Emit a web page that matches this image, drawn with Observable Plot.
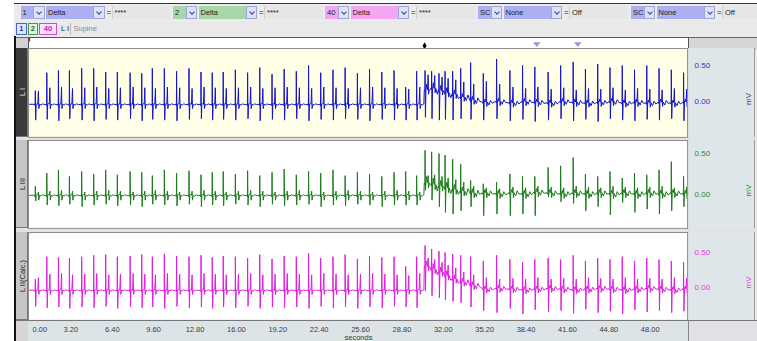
<!DOCTYPE html>
<html><head><meta charset="utf-8">
<script src="https://cdn.jsdelivr.net/npm/d3@7"></script>
<script src="https://cdn.jsdelivr.net/npm/@observablehq/plot@0.6"></script>
<style>
body{margin:0;background:#fff;width:757px;height:341px;overflow:hidden;position:relative;font-family:"Liberation Sans",Arial,sans-serif;}
.a{position:absolute;box-sizing:border-box;}
.t{font-size:7.5px;line-height:1;white-space:nowrap;display:flex;align-items:center;padding-left:2px;color:#222;}
</style></head><body>
<script>
// ---------------- data ----------------
const beatTimes = [0.45,1.34,2.24,3.09,4.04,4.97,5.90,6.80,7.79,8.69,9.51,10.44,11.39,12.35,13.28,14.15,15.00,15.94,16.89,17.83,18.78,19.72,20.66,21.61,22.55,23.50,24.44,25.39,26.33,27.28,28.23,29.13,29.98,30.63,31.14,31.71,32.18,32.77,33.39,34.16,35.14,36.17,37.20,38.18,39.13,40.16,41.13,42.10,43.05,44.00,44.95,45.90,46.85,47.80,48.75,49.70,50.65];
const noiseMv = [0.01,0.01,0.01,0.01,0.01,0.01,0.01,0.01,0.01,0.01,0.01,0.01,0.01,0.01,0.01,0.01,0.01,0.01,0.01,0.01,0.01,0.01,0.01,0.01,0.01,0.01,0.01,0.01,0.01,0.01,0.01,0.01,0.01,0.08,0.08,0.07,0.07,0.06,0.05,0.05,0.04,0.04,0.04,0.04,0.04,0.04,0.04,0.04,0.04,0.04,0.04,0.04,0.04,0.04,0.04,0.04,0.04];

// Lead I (blue)
const baseI = [-0.04,-0.04,-0.04,-0.04,-0.04,-0.04,-0.04,-0.04,-0.04,-0.04,-0.04,-0.04,-0.04,-0.04,-0.04,-0.04,-0.04,-0.04,-0.04,-0.04,-0.04,-0.04,-0.04,-0.04,-0.04,-0.04,-0.04,-0.04,-0.04,-0.04,-0.04,-0.04,-0.04,0.16,0.18,0.15,0.12,0.10,0.06,0.02,-0.01,0.00,-0.02,0.00,-0.01,-0.02,0.00,-0.01,-0.02,-0.01,0.00,-0.02,-0.01,-0.02,-0.01,-0.02,-0.01];
const peakI = [0.15,0.40,0.43,0.43,0.46,0.46,0.41,0.41,0.40,0.39,0.46,0.46,0.42,0.46,0.41,0.40,0.41,0.44,0.40,0.47,0.38,0.45,0.42,0.50,0.40,0.44,0.47,0.39,0.45,0.41,0.43,0.20,0.42,0.43,0.42,0.39,0.42,0.42,0.46,0.54,0.39,0.59,0.43,0.50,0.48,0.41,0.50,0.55,0.45,0.52,0.47,0.50,0.44,0.50,0.46,0.44,0.40];
const troughI = [-0.26,-0.25,-0.27,-0.24,-0.26,-0.27,-0.25,-0.26,-0.24,-0.27,-0.25,-0.26,-0.27,-0.25,-0.24,-0.26,-0.25,-0.26,-0.24,-0.27,-0.25,-0.26,-0.24,-0.27,-0.25,-0.26,-0.24,-0.25,-0.27,-0.25,-0.26,-0.26,-0.26,-0.22,-0.24,-0.26,-0.25,-0.26,-0.24,-0.25,-0.26,-0.24,-0.27,-0.25,-0.28,-0.26,-0.24,-0.27,-0.25,-0.28,-0.24,-0.26,-0.27,-0.25,-0.26,-0.24,-0.27];
const secI = [0.14,0.19,0.20,0.18,0.19,0.20,0.18,0.19,0.20,0.19,0.18,0.20,0.19,0.18,0.20,0.19,0.18,0.19,0.20,0.18,0.19,0.20,0.19,0.18,0.20,0.19,0.18,0.19,0.20,0.19,0.18,0.17,0.20,0.37,0.36,0.34,0.32,0.30,0.27,0.24,0.28,0.24,0.20,0.18,0.20,0.17,0.19,0.16,0.18,0.17,0.19,0.16,0.18,0.17,0.16,0.18,0.17];

// Lead III (green)
const baseIII = [-0.01,-0.01,-0.01,-0.01,-0.01,-0.01,-0.01,-0.01,-0.01,-0.01,-0.01,-0.01,-0.01,-0.01,-0.01,-0.01,-0.01,-0.01,-0.01,-0.01,-0.01,-0.01,-0.01,-0.01,-0.01,-0.01,-0.01,-0.01,-0.01,-0.01,-0.01,-0.01,-0.01,0.14,0.12,0.10,0.08,0.06,0.04,0.02,0.02,0.01,0.02,0.01,0.03,0.02,0.01,0.02,0.01,0.02,0.01,0.02,0.01,0.02,0.01,0.02,0.01];
const peakIII = [0.10,0.26,0.30,0.22,0.28,0.25,0.30,0.24,0.28,0.27,0.23,0.30,0.26,0.29,0.24,0.27,0.28,0.25,0.29,0.23,0.27,0.31,0.24,0.28,0.26,0.30,0.23,0.27,0.25,0.22,0.27,0.28,0.23,0.54,0.52,0.50,0.48,0.43,0.37,0.17,0.13,0.15,0.25,0.22,0.22,0.33,0.35,0.45,0.25,0.22,0.28,0.20,0.26,0.24,0.30,0.40,0.22];
const troughIII = [-0.08,-0.13,-0.14,-0.12,-0.15,-0.13,-0.12,-0.14,-0.13,-0.15,-0.12,-0.13,-0.14,-0.12,-0.15,-0.13,-0.14,-0.12,-0.13,-0.15,-0.12,-0.14,-0.13,-0.12,-0.15,-0.13,-0.14,-0.12,-0.13,-0.15,-0.13,-0.13,-0.13,0.05,-0.07,-0.15,-0.22,-0.24,-0.20,-0.15,-0.26,-0.24,-0.26,-0.24,-0.26,-0.03,-0.09,-0.11,-0.20,-0.15,-0.25,-0.10,-0.22,-0.18,-0.24,-0.20,-0.15];
const secIII = [0.03,0.04,0.05,0.04,0.03,0.04,0.05,0.04,0.03,0.04,0.05,0.04,0.03,0.04,0.05,0.04,0.03,0.04,0.05,0.04,0.03,0.04,0.05,0.04,0.03,0.04,0.05,0.04,0.03,0.04,0.05,0.04,0.03,0.23,0.24,0.22,0.20,0.18,0.15,0.10,0.08,0.07,0.09,0.08,0.10,0.09,0.08,0.10,0.09,0.08,0.10,0.09,0.08,0.09,0.10,0.08,0.09];

// Lead II calc (magenta)
const baseII = [-0.04,-0.04,-0.04,-0.04,-0.04,-0.04,-0.04,-0.04,-0.04,-0.04,-0.04,-0.04,-0.04,-0.04,-0.04,-0.04,-0.04,-0.04,-0.04,-0.04,-0.04,-0.04,-0.04,-0.04,-0.04,-0.04,-0.04,-0.04,-0.04,-0.04,-0.04,-0.04,-0.04,0.30,0.26,0.22,0.17,0.12,0.08,0.03,-0.02,-0.01,-0.02,-0.03,-0.02,-0.01,-0.02,-0.03,-0.02,-0.01,-0.02,-0.03,-0.02,-0.01,-0.02,-0.03,-0.02];
const peakII = [0.12,0.44,0.43,0.42,0.44,0.46,0.47,0.44,0.45,0.47,0.44,0.48,0.45,0.44,0.46,0.43,0.45,0.44,0.42,0.47,0.41,0.45,0.44,0.49,0.42,0.44,0.47,0.41,0.45,0.43,0.44,0.30,0.44,0.60,0.55,0.52,0.50,0.48,0.46,0.44,0.38,0.46,0.40,0.36,0.40,0.42,0.40,0.46,0.38,0.42,0.40,0.44,0.38,0.42,0.40,0.38,0.36];
const troughII = [-0.27,-0.29,-0.28,-0.30,-0.28,-0.29,-0.27,-0.30,-0.28,-0.29,-0.28,-0.30,-0.27,-0.29,-0.28,-0.30,-0.28,-0.29,-0.27,-0.30,-0.28,-0.29,-0.28,-0.30,-0.27,-0.29,-0.28,-0.30,-0.28,-0.29,-0.27,-0.28,-0.29,-0.05,-0.12,-0.15,-0.18,-0.20,-0.22,-0.28,-0.33,-0.36,-0.30,-0.38,-0.32,-0.35,-0.33,-0.37,-0.31,-0.36,-0.34,-0.38,-0.32,-0.35,-0.33,-0.36,-0.34];
const secII = [0.14,0.19,0.20,0.18,0.19,0.20,0.18,0.19,0.20,0.19,0.18,0.20,0.19,0.18,0.20,0.19,0.18,0.19,0.20,0.18,0.19,0.20,0.19,0.18,0.20,0.19,0.18,0.19,0.20,0.19,0.18,0.17,0.20,0.42,0.40,0.36,0.32,0.28,0.22,0.18,0.14,0.12,0.13,0.12,0.14,0.12,0.13,0.12,0.14,0.13,0.12,0.14,0.12,0.13,0.12,0.14,0.13];

const xTicks = [0,3.2,6.4,9.6,12.8,16,19.2,22.4,25.6,28.8,32,35.2,38.4,41.6,44.8,48];
const yTicks = [0, 0.5];
const eventTimes = [30.55];
const markerTimes = [39.23, 42.40];

const toolbar = [
  {num:"1", name:"Delta", val:"****", x:20.5, c:"#aab0f2"},
  {num:"2", name:"Delta", val:"****", x:173, c:"#a9d6a9"},
  {num:"40", name:"Delta", val:"****", x:325, c:"#f4a6f4"},
  {num:"SC", name:"None", val:"Off", x:478, c:"#aab0f2"},
  {num:"SC", name:"None", val:"Off", x:631, c:"#aab0f2"}
];

// ---------------- helpers ----------------
function div(l,t,w,h,css,text,cls){
  const d=document.createElement("div");
  d.className="a"+(cls?" "+cls:"");
  Object.assign(d.style,{left:l+"px",top:t+"px",width:w+"px",height:h+"px"},css||{});
  if(text!=null) d.textContent=text;
  document.body.appendChild(d); return d;
}
function chevron(l,t,h){
  const b=div(l,t,11.5,h,{background:"#dfe2f4",border:"1px solid #9ea6d6"});
  const c=document.createElement("div");
  Object.assign(c.style,{position:"absolute",left:"3px",top:"2.5px",width:"3px",height:"3px",borderRight:"1.5px solid #2c44a8",borderBottom:"1.5px solid #2c44a8",transform:"rotate(45deg)"});
  b.appendChild(c);
}

// window chrome
div(14,3,743,338,{background:"#ebebeb",borderTop:"1px solid #333"});
div(14,36,2,305,{background:"#111"});

// row 1
const R1=6, RH=13;
toolbar.forEach(g=>{
  div(g.x,R1,12.8,RH,{background:g.c},g.num,"t");
  chevron(g.x+12.8,R1,RH);
  div(g.x+25.5,R1,47,RH,{background:g.c},g.name,"t");
  chevron(g.x+72.6,R1,RH);
  div(g.x+85,R1,6,RH,{fontSize:"8px",paddingLeft:"1px"},"=","t");
  div(g.x+91,R1,Math.min(58.5,757-(g.x+91)),RH,{background:"#e6e6e6",borderLeft:"1px solid #cfcfcf"},g.val,"t");
});
// row 2
const R2=23;
div(16,R2-1,741,14,{background:"#e9e9e9"});
div(16,R2,10.5,12,{background:"#dce6f8",border:"1px solid #4a66c4",color:"#2a3aa0",justifyContent:"center",paddingLeft:"0",fontWeight:"bold"},"1","t");
div(27.5,R2,10.5,12,{background:"#e2f1e2",border:"1px solid #4a9a4a",color:"#1f6a1f",justifyContent:"center",paddingLeft:"0",fontWeight:"bold"},"2","t");
div(39,R2,18,12,{background:"#fae4fa",border:"1px solid #d24ad2",color:"#c21cc2",justifyContent:"center",paddingLeft:"0",fontWeight:"bold"},"40","t");
div(59,R2,11,12,{color:"#222"},"L I","t");
div(70,R2,1,12,{background:"#b8b8b8"});
div(71.5,R2,40,12,{color:"#8a8a8a"},"Supine","t");

// timeline strip
const TT=37, TH=11;
div(16,TT,12,TH,{background:"#d2d2d2",borderTop:"1px solid #666"});
div(688,TT,69,TH+2,{background:"#d6d6d8",borderTop:"1px solid #666",borderLeft:"1px solid #888"});

const X0=-0.077, X1=50.96;
const downTri={draw(ctx,size){const s=Math.sqrt(size/Math.PI);ctx.moveTo(-s*1.2,-s*0.75);ctx.lineTo(s*1.2,-s*0.75);ctx.lineTo(0,s*0.75);ctx.closePath();}};
const tl = Plot.plot({
  width:660,height:TH,margin:0,
  x:{domain:[X0,X1],axis:null},
  y:{domain:[0,1],axis:null},
  style:{background:"#ffffff",overflow:"visible"},
  marks:[
    Plot.frame({stroke:"#555",strokeWidth:1}),
    Plot.ruleX([0],{y1:0.6,y2:0.92,stroke:"#b02a2a",strokeWidth:1.5}),
    Plot.dot(eventTimes,{x:d=>d,y:0.25,symbol:"diamond",r:2.1,fill:"#000"}),
    Plot.dot(markerTimes,{x:d=>d,y:0.35,symbol:downTri,r:3.2,fill:"#9898e4"})
  ]
});
const tlw=div(28,TT,660,TH,{}); tlw.appendChild(tl);

// ---------------- panels ----------------
function traceRows(base,peak,trough,sec){
  const rows=[{t:0,v:base[0]}];
  beatTimes.forEach((t,i)=>{
    const b=base[i], n=noiseMv[i];
    const next=i+1<beatTimes.length?beatTimes[i+1]-0.07:X1;
    const pts=[[t-0.06,b],[t-0.015,b-0.02],[t,peak[i]],[t+0.03,trough[i]],[t+0.07,b],[t+0.13,b+n],[t+0.19,b],[t+0.24,sec[i]],[t+0.27,b-0.06],[t+0.33,b],[t+0.44,b-n],[t+0.56,b+n*0.6],[t+0.7,b-n*0.4]];
    pts.forEach(([tt,v],k)=>{ if(k<5 || tt<next) rows.push({t:tt,v}); });
  });
  return rows;
}

const panels=[
  {label:"L I",top:48,h:89,domain:[-0.5,0.736],color:"#1414cc",tick:"#3434b4",bg:"#ffffe8",strip:"#3a3a3a",stripText:"#e6e6e6",data:[baseI,peakI,troughI,secI]},
  {label:"L III",top:140,h:88,domain:[-0.415,0.659],color:"#1c7a1c",tick:"#2a8a2a",bg:"#ffffff",strip:"#c6c6c6",stripText:"#222",data:[baseIII,peakIII,troughIII,secIII]},
  {label:"L II(Calc.)",top:232,h:88,domain:[-0.471,0.786],color:"#e01ce0",tick:"#e040e0",bg:"#ffffff",strip:"#c6c6c6",stripText:"#222",data:[baseII,peakII,troughII,secII]}
];
// separators
div(16,137,741,3,{background:"#e2e2e6"});
div(16,228,741,4,{background:"#e2e2e6"});

panels.forEach(p=>{
  const s=div(16,p.top,12,p.h,{background:p.strip,borderRight:"1px solid #777",borderBottom:"1px solid #777"});
  const lab=document.createElement("div");
  Object.assign(lab.style,{position:"absolute",left:"50%",top:"50%",transform:"translate(-50%,-50%) rotate(-90deg)",fontSize:"7.5px",color:p.stripText,whiteSpace:"nowrap",fontFamily:"'Liberation Sans',Arial,sans-serif"});
  lab.textContent=p.label; s.appendChild(lab);
  const rows=traceRows(...p.data);
  const chart=Plot.plot({
    width:727,height:p.h,marginLeft:0,marginRight:67,marginTop:0,marginBottom:0,
    x:{domain:[X0,X1],axis:null},
    y:{domain:p.domain,axis:null},
    style:{background:"#dfe6ea",fontFamily:"'Liberation Sans',Arial,sans-serif",overflow:"visible"},
    marks:[
      Plot.frame({fill:p.bg,stroke:"#8c8c8c"}),
      Plot.line(rows,{x:"t",y:"v",stroke:p.color,strokeWidth:1,clip:true}),
      Plot.axisY({anchor:"right",ticks:yTicks,tickSize:0,tickPadding:7,tickFormat:d3.format(".2f"),fill:p.tick,fontSize:8,label:null}),
      Plot.text(["mV"],{frameAnchor:"right",dx:61,rotate:-90,fill:p.tick,fontSize:8})
    ]
  });
  const w=div(28,p.top,727,p.h,{borderRight:"1px solid #999"}); w.appendChild(chart);
});

// bottom axis
div(16,320,12,21,{background:"#d6d6d6",borderTop:"1px solid #777"});
div(688,320,69,21,{background:"#e2e2e6",borderTop:"1px solid #777",borderLeft:"1px solid #888"});
const ax=Plot.plot({
  width:660,height:20,margin:0,
  x:{domain:[X0,X1],axis:null},
  style:{background:"#dde4e8",fontFamily:"'Liberation Sans',Arial,sans-serif",color:"#444",display:"block"},
  marks:[
    Plot.text(xTicks.slice(0,1),{x:d=>d,frameAnchor:"top",dy:5.5,dx:3,textAnchor:"start",text:d=>d3.format(".2f")(d),fill:"#3c3c3c",fontSize:7.5}),
    Plot.text(xTicks.slice(1),{x:d=>d,frameAnchor:"top",dy:5.5,text:d=>d3.format(".2f")(d),fill:"#3c3c3c",fontSize:7.5}),
    Plot.text(["seconds"],{frameAnchor:"top",dy:13,fill:"#3c3c3c",fontSize:7.5})
  ]
});
const aw=div(28,320,660,21,{borderTop:"1px solid #777"}); aw.appendChild(ax);
</script>
</body></html>
